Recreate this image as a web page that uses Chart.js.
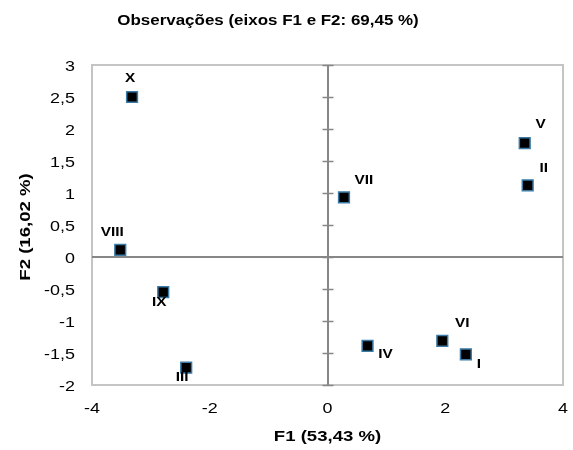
<!DOCTYPE html>
<html>
<head>
<meta charset="utf-8">
<script src="https://cdn.jsdelivr.net/npm/chart.js@4/dist/chart.umd.min.js"></script>
<style>
  html, body { margin: 0; padding: 0; background: #fff; }
  #wrap { width: 573px; height: 450px; }
</style>
</head>
<body>
<div id="wrap"><canvas id="c" width="573" height="450"></canvas></div>
<script>
// Observations on the first two factorial axes
const obsLabels = ['I', 'II', 'III', 'IV', 'V', 'VI', 'VII', 'VIII', 'IX', 'X'];
const f1Scores = [2.35, 3.40, -2.40, 0.68, 3.35, 1.95, 0.28, -3.52, -2.79, -3.32];
const f2Scores = [-1.52, 1.12, -1.73, -1.39, 1.78, -1.31, 0.93, 0.11, -0.55, 2.50];

const chartTitle = 'Observações (eixos F1 e F2: 69,45 %)';
const xTitle = 'F1 (53,43 %)';
const yTitle = 'F2 (16,02 %)';

// where each observation's name sits relative to its marker (px)
const labelOffsets = [
  [13, 10], [16, -17], [-4, 10], [18, 9], [16, -18],
  [20, -17], [20, -17], [-8, -17], [-4, 10], [-2, -18]
];

const FONT = '"Liberation Sans", Arial, sans-serif';
const WIDE = 1.28; // horizontal glyph widening used for the chart text
const fmt = v => String(v).replace('.', ',');

const points = f1Scores.map((x, i) => ({ x, y: f2Scores[i] }));

function wideText(ctx, text, x, y, font, align, angle, stretch) {
  ctx.save();
  ctx.translate(x, y);
  if (angle) ctx.rotate(angle);
  ctx.scale(stretch || WIDE, 1);
  ctx.font = font;
  ctx.textAlign = align || 'center';
  ctx.textBaseline = 'middle';
  ctx.fillStyle = '#000';
  ctx.fillText(text, 0, 0);
  ctx.restore();
}

const decorPlugin = {
  id: 'decor',
  beforeDatasetsDraw(chart) {
    const { ctx, chartArea: a, scales: { x, y } } = chart;
    ctx.save();
    // plot frame
    ctx.strokeStyle = '#c4c4c4';
    ctx.lineWidth = 2;
    ctx.strokeRect(a.left, a.top, a.right - a.left, a.bottom - a.top);
    // zero axes
    const x0 = Math.round(x.getPixelForValue(0));
    const y0 = Math.round(y.getPixelForValue(0));
    ctx.strokeStyle = '#878787';
    ctx.lineWidth = 2;
    ctx.beginPath();
    ctx.moveTo(a.left, y0); ctx.lineTo(a.right, y0);
    ctx.moveTo(x0, a.top); ctx.lineTo(x0, a.bottom);
    ctx.stroke();
    // cross ticks on the vertical axis
    ctx.lineWidth = 1.5;
    ctx.beginPath();
    y.ticks.forEach(t => {
      const py = Math.round(y.getPixelForValue(t.value)) + 0.5;
      ctx.moveTo(x0 - 5.5, py); ctx.lineTo(x0 + 5.5, py);
    });
    ctx.stroke();
    ctx.restore();

    // tick labels
    const tickFont = '14px ' + FONT;
    y.ticks.forEach(t => {
      wideText(ctx, fmt(t.value), a.left - 17, y.getPixelForValue(t.value) + 2, tickFont, 'right');
    });
    x.ticks.forEach(t => {
      wideText(ctx, fmt(t.value), x.getPixelForValue(t.value), 409, tickFont, 'center');
    });
  },
  afterDatasetsDraw(chart) {
    const { ctx, chartArea: a } = chart;
    const meta = chart.getDatasetMeta(0);
    const ptFont = 'bold 12px ' + FONT;
    meta.data.forEach((el, i) => {
      const [dx, dy] = labelOffsets[i];
      wideText(ctx, obsLabels[i], el.x + dx, el.y + dy, ptFont, 'center');
    });
    // titles
    wideText(ctx, chartTitle, 268, 21, 'bold 15px ' + FONT, 'center', 0, 1.13);
    const axFont = 'bold 14.5px ' + FONT;
    wideText(ctx, xTitle, (a.left + a.right) / 2, 437, axFont, 'center');
    wideText(ctx, yTitle, 26, (a.top + a.bottom) / 2 + 2, axFont, 'center', -Math.PI / 2);
  }
};

new Chart(document.getElementById('c'), {
  type: 'scatter',
  data: {
    datasets: [{
      data: points,
      pointStyle: 'rect',
      pointRadius: 7.6,
      pointHoverRadius: 7.6,
      backgroundColor: '#000',
      borderColor: '#3b7ba6',
      borderWidth: 1.5
    }]
  },
  options: {
    responsive: false,
    animation: false,
    events: [],
    layout: { padding: { left: 0, right: 10, top: 65, bottom: 0 } },
    plugins: { legend: { display: false }, tooltip: { enabled: false }, title: { display: false } },
    scales: {
      x: {
        type: 'linear',
        min: -4, max: 4,
        afterFit: s => { s.height = 65; s.paddingLeft = 0; s.paddingRight = 0; },
        grid: { display: false },
        border: { display: false },
        ticks: { stepSize: 2, display: false }
      },
      y: {
        type: 'linear',
        min: -2, max: 3,
        afterFit: s => { s.width = 92; s.paddingTop = 0; s.paddingBottom = 0; },
        grid: { display: false },
        border: { display: false },
        ticks: { stepSize: 0.5, display: false }
      }
    }
  },
  plugins: [decorPlugin]
});
</script>
</body>
</html>
